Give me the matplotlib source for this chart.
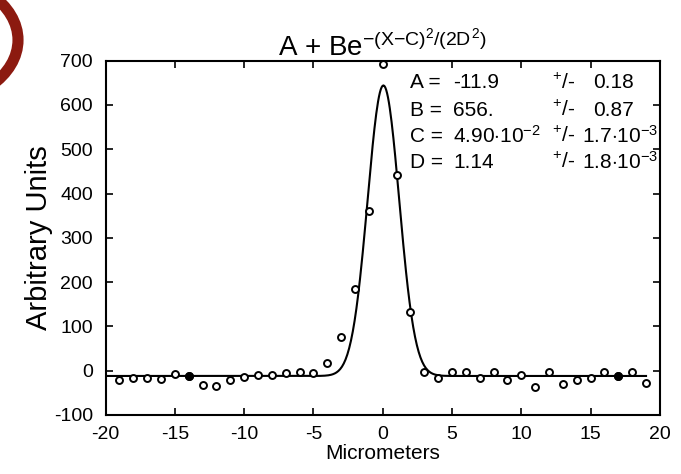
import numpy as np
import matplotlib
matplotlib.use('Agg')
import matplotlib.pyplot as plt
from matplotlib.patches import Circle

plt.rcParams['font.family'] = ['Liberation Sans', 'DejaVu Sans']
plt.rcParams['mathtext.fontset'] = 'custom'
plt.rcParams['mathtext.rm'] = 'Liberation Sans'
plt.rcParams['mathtext.it'] = 'Liberation Sans'
plt.rcParams['mathtext.bf'] = 'Liberation Sans:bold'
plt.rcParams['axes.unicode_minus'] = False

# measured points (micrometers, arbitrary units)
x_pts = [-19, -18, -17, -16, -15, -14, -13, -12, -11, -10, -9, -8, -7, -6, -5, -4, -3, -2, -1, 0,
         1, 2, 3, 4, 5, 6, 7, 8, 9, 10, 11, 12, 13, 14, 15, 16, 17, 18, 19]
y_pts = [-22, -17, -17, -19, -8, -13, -33, -35, -22, -14, -9, -10, -6, -4, -6, 18, 77, 185, 361, 692,
         442, 132, -3, -17, -3, -2, -16, -2, -22, -10, -36, -4, -31, -21, -16, -3, -13, -2, -28]
# points drawn as filled dots
x_filled = [-14, 17]
y_filled = [-13, -13]

# fit parameters
fit_names = ['A', 'B', 'C', 'D']
fit_vals = [-11.9, 656.0, 4.90e-2, 1.14]
fit_val_labels = ['-11.9', '656.', r'4.90$\cdot$10$^{-2}$', '1.14']
fit_err_labels = ['0.18', '0.87', r'1.7$\cdot$10$^{-3}$', r'1.8$\cdot$10$^{-3}$']

A, B, C, D = fit_vals
xf = np.linspace(-20, 19, 600)
yf = A + B * np.exp(-(xf - C) ** 2 / (2 * D ** 2))

fig = plt.figure(figsize=(6.81, 4.74), dpi=100)
ax = fig.add_axes([0.155, 0.1245, 0.814, 0.7475])

ax.plot(xf, yf, 'k-', lw=1.5)
ax.plot(x_pts, y_pts, 'o', mfc='white', mec='black', ms=5, mew=1.4, clip_on=False)
ax.plot(x_filled, y_filled, 'o', mfc='black', mec='black', ms=5, mew=1.4)

ax.set_xlim(-20, 20)
ax.set_ylim(-100, 700)
ax.set_xticks(np.arange(-20, 21, 5))
ax.set_yticks(np.arange(-100, 701, 100))
ax.tick_params(direction='in', length=5, width=1.2, top=True, right=True, labelsize=14)
ax.tick_params(axis='x', pad=8)
ax.tick_params(axis='y', pad=9)
for s in ax.spines.values():
    s.set_linewidth(1.5)

ax.set_xlabel('Micrometers', fontsize=15, labelpad=1)
ax.set_ylabel('Arbitrary Units', fontsize=21, labelpad=1)
ax.set_title(r'A + Be$^{-(X{-}C)^2/(2D^2)}$', fontsize=20, pad=3)

# fit parameter table
row_y = [83, 110, 136, 162]
for i in range(4):
    yy = 1 - row_y[i] / 474
    fig.text(410 / 681, yy, fit_names[i] + ' =', fontsize=15, va='center')
    fig.text(453 / 681, yy, fit_val_labels[i], fontsize=15, va='center')
    fig.text(552 / 681, yy, r'$^{+}$/-', fontsize=15, va='center')
    xe = 593 if i < 2 else 582
    fig.text(xe / 681, yy, fit_err_labels[i], fontsize=15, va='center')

# red edge in the top-left corner of the scan
fig.patches.append(Circle((-75 / 681, 1 - 40 / 474), 93 / 681, transform=fig.transFigure,
                          facecolor='white', edgecolor='#8c1a10', lw=8, zorder=0))

plt.savefig('out.png', dpi=100)
